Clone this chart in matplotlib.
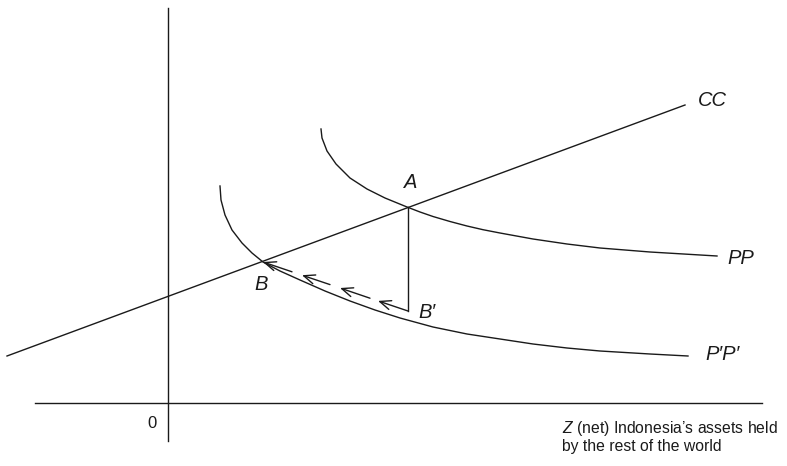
import matplotlib.pyplot as plt

plt.rcParams['font.family'] = ['Liberation Sans', 'DejaVu Sans']
plt.rcParams['mathtext.fontset'] = 'custom'
plt.rcParams['mathtext.it'] = 'Liberation Sans:italic'
plt.rcParams['mathtext.rm'] = 'Liberation Sans'

# diagram data, origin at the axes crossing (units ~ pixels)
cc_x = [-161, 517]
cc_y = [47, 298]

pp_x = [153, 154, 159, 168, 182, 199, 217, 239, 252, 265, 282, 299, 315, 332, 365,
        399, 432, 482, 549]
pp_y = [274, 265, 252, 239, 225, 214, 205, 196, 191, 186.5, 181.5, 177, 173.3, 170,
        164, 159, 155, 151, 147]

ppp_x = [52, 53, 57, 64, 74, 84, 95, 112, 132, 157, 182, 207, 232, 265, 299, 332,
         365, 399, 432, 482, 520]
ppp_y = [217, 203, 188, 173, 160, 150, 141, 132, 123, 112, 102, 93, 85, 76, 69, 64,
         59, 55, 52, 49, 47]

point_a = (240, 196)
point_b1 = (240, 92)   # B'

# dashed adjustment arrows from B' back to B
arrow_tail_x = [240, 202, 162, 124]
arrow_tail_y = [92, 104.8, 118.4, 131.2]
arrow_head_x = [210, 172, 134, 95]
arrow_head_y = [102.1, 115, 127.8, 141]

col = '#1a1a1a'
lw = 1.0

fig = plt.figure(figsize=(7.87, 4.66), dpi=100)
ax = fig.add_axes([0, 0, 1, 1])
ax.set_xlim(-168, 619)
ax.set_ylim(-63, 403)
ax.axis('off')

# axes
ax.plot([0, 0], [-38, 395], color=col, lw=lw)
ax.plot([-133, 594], [0, 0], color=col, lw=lw)

# curves
ax.plot(cc_x, cc_y, color=col, lw=lw)
ax.plot(pp_x, pp_y, color=col, lw=lw)
ax.plot(ppp_x, ppp_y, color=col, lw=lw)

# A -> B' vertical drop
ax.plot([point_a[0], point_b1[0]], [point_a[1], point_b1[1]], color=col, lw=lw)

for tx, ty, hx, hy in zip(arrow_tail_x, arrow_tail_y, arrow_head_x, arrow_head_y):
    ax.annotate('', xy=(hx, hy), xytext=(tx, ty),
                arrowprops=dict(arrowstyle='->,head_length=0.8,head_width=0.33',
                                color=col, lw=lw, shrinkA=0, shrinkB=0))

lab = dict(fontsize=14.5, style='italic', color=col, ha='center', va='center')
ax.text(243, 220, 'A', **lab)
ax.text(93, 119, 'B', **lab)
ax.text(259, 91, 'B\u2032', **lab)
ax.text(544, 302, 'CC', **lab)
ax.text(573, 145, 'PP', **lab)
ax.text(555, 49, 'P\u2032P\u2032', **lab)

ax.text(-16, -20, '0', fontsize=12, color=col, ha='center', va='center')
ax.text(394, -26, '$Z$ (net) Indonesia\u2019s assets held',
        fontsize=11.3, color=col, ha='left', va='center')
ax.text(394, -44, 'by the rest of the world', fontsize=11.3, color=col,
        ha='left', va='center')

fig.savefig('out.png', dpi=100)
